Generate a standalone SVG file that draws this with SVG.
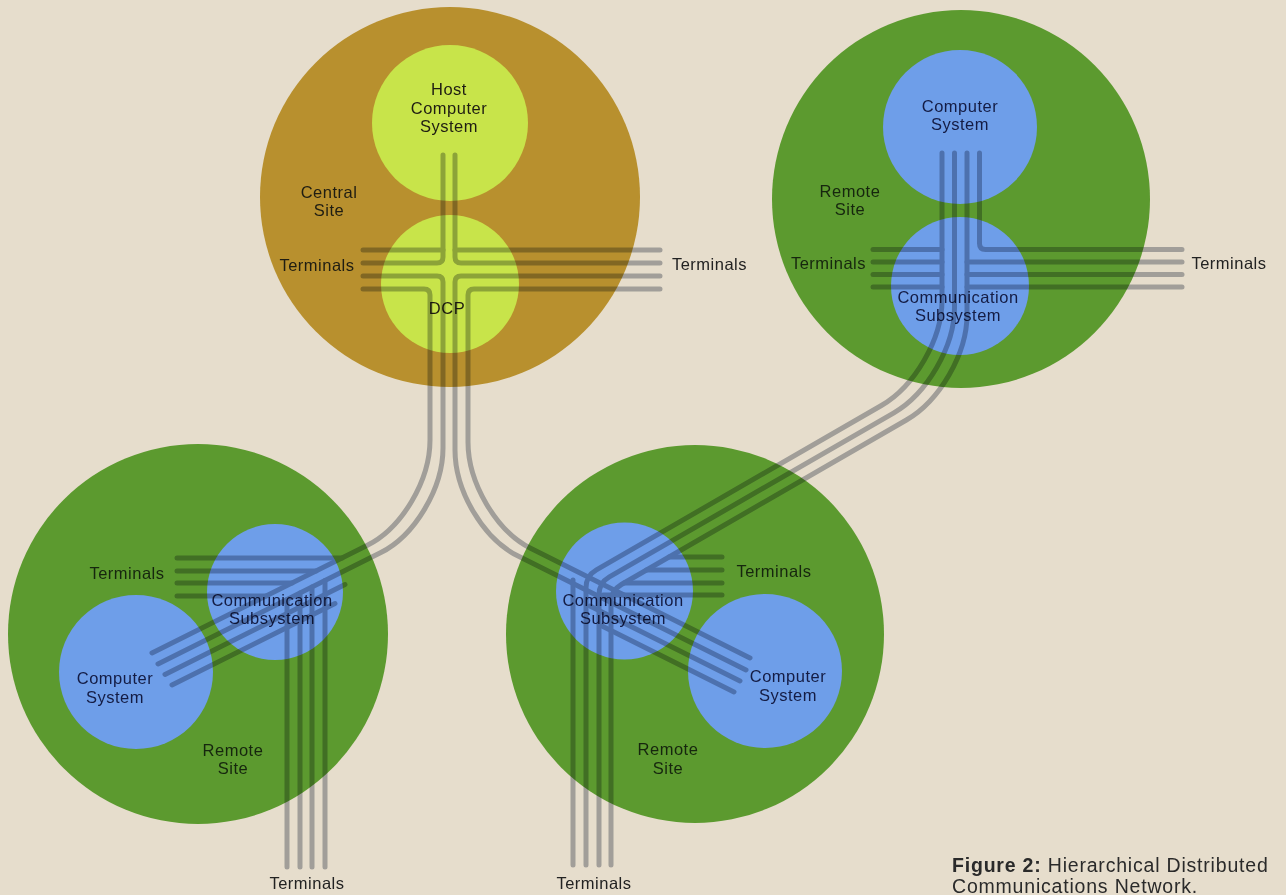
<svg xmlns="http://www.w3.org/2000/svg" width="1286" height="895" viewBox="0 0 1286 895">
<style>
text{font-family:"Liberation Sans",Arial,sans-serif;font-size:16.5px;letter-spacing:0.5px;text-anchor:middle}
.site-c{fill:#b8902e}
.site-g{fill:#5c9a2f}
.inner-y{fill:#c8e44a}
.inner-b{fill:#6e9ee9}
.t-dark{fill:#1f1d12}
.t-green{fill:#16260e}
.t-blue{fill:#141c44}
.t-bg{fill:#222}
.cap{font-size:19.5px;letter-spacing:0.8px;text-anchor:start;fill:#2a2a2a}
.conn{fill:none;stroke:#b3b7bf;stroke-width:5;stroke-linecap:round;stroke-linejoin:round}
</style>
<rect width="1286" height="895" fill="#e6ddcc"/>

<g id="central-site">
<circle class="site-c" cx="450" cy="197" r="190"/>
<text class="t-dark" x="329" y="197.5">Central</text>
<text class="t-dark" x="329" y="216">Site</text>
</g>
<g id="remote-site-tr">
<circle class="site-g" cx="961" cy="199" r="189"/>
<text class="t-green" x="850" y="196.5">Remote</text>
<text class="t-green" x="850" y="215">Site</text>
</g>
<g id="remote-site-bl">
<circle class="site-g" cx="198" cy="634" r="190"/>
<text class="t-green" x="233" y="755.5">Remote</text>
<text class="t-green" x="233" y="774">Site</text>
</g>
<g id="remote-site-br">
<circle class="site-g" cx="695" cy="634" r="189"/>
<text class="t-green" x="668" y="755">Remote</text>
<text class="t-green" x="668" y="773.5">Site</text>
</g>

<g id="host">
<circle class="inner-y" cx="450" cy="123" r="78"/>
<text class="t-dark" x="449" y="95">Host</text>
<text class="t-dark" x="449" y="113.5">Computer</text>
<text class="t-dark" x="449" y="132">System</text>
</g>
<g id="dcp">
<circle class="inner-y" cx="450" cy="284" r="69"/>
<text class="t-dark" x="447" y="314">DCP</text>
</g>
<g id="tr-computer">
<circle class="inner-b" cx="960" cy="127" r="77"/>
<text class="t-blue" x="960" y="111.5">Computer</text>
<text class="t-blue" x="960" y="130">System</text>
</g>
<g id="tr-comm">
<circle class="inner-b" cx="960" cy="286" r="69"/>
<text class="t-blue" x="958" y="302.75">Communication</text>
<text class="t-blue" x="958" y="321.25">Subsystem</text>
</g>
<g id="bl-comm">
<circle class="inner-b" cx="275" cy="592" r="68"/>
<text class="t-blue" x="272" y="605.75">Communication</text>
<text class="t-blue" x="272" y="624.25">Subsystem</text>
</g>
<g id="bl-computer">
<circle class="inner-b" cx="136" cy="672" r="77"/>
<text class="t-blue" x="115" y="684.25">Computer</text>
<text class="t-blue" x="115" y="702.75">System</text>
</g>
<g id="br-comm">
<circle class="inner-b" cx="624.5" cy="591" r="68.5"/>
<text class="t-blue" x="623" y="605.75">Communication</text>
<text class="t-blue" x="623" y="624.25">Subsystem</text>
</g>
<g id="br-computer">
<circle class="inner-b" cx="765" cy="671" r="77"/>
<text class="t-blue" x="788" y="682.25">Computer</text>
<text class="t-blue" x="788" y="700.75">System</text>
</g>

<g id="connectors" class="conn" style="mix-blend-mode:multiply">
<!-- central -->
<path d="M363 250H443"/>
<path d="M443 155V257Q443 263 437 263H363"/>
<path d="M455 155V257Q455 263 461 263H660"/>
<path d="M660 250H455"/>
<path d="M363 289H424Q430 289 430 295V440C430 480.7 401.8 528.1 367.4 545.3L152 653"/>
<path d="M363 276H437Q443 276 443 282V448C443 488.4 414.8 535.6 380.4 552.8L158 664"/>
<path d="M660 276H461Q455 276 455 282V450C455 491 483.2 538.6 517.6 555.8L746 670"/>
<path d="M660 289H474Q468 289 468 295V442C468 482.7 496.2 531.1 530.6 548.3L750 658"/>
<!-- bottom left -->
<path d="M165 674.5L345 584.5"/>
<path d="M172 685L335 603.5"/>
<path d="M177 558H342"/>
<path d="M177 571H316"/>
<path d="M177 583H292"/>
<path d="M177 596H266"/>
<path d="M287 867V599.5"/>
<path d="M300 867V593"/>
<path d="M312 867V587"/>
<path d="M325 867V580.5"/>
<!-- bottom right -->
<path d="M590 606L740 681"/>
<path d="M600 625L734 692"/>
<path d="M722 557H669"/>
<path d="M722 570H646.5"/>
<path d="M722 583H624"/>
<path d="M722 595H603"/>
<path d="M573 865V580"/>
<!-- top right and link to bottom right -->
<path d="M942 153V300.5C942 339 914.7 386.3 881.4 405.5L596.4 569.9Q586 575.9 586 587.9V865"/>
<path d="M954.5 153V307.8C954.5 346.3 927.2 393.6 893.9 412.8L609.4 576.9Q599 582.9 599 594.9V865"/>
<path d="M967 153V315C967 353.5 939.7 400.8 906.4 420L621.4 584.5Q611 590.5 611 602.5V865"/>
<path d="M979.5 153V243.5Q979.5 249.5 985.5 249.5H1182"/>
<path d="M873 249.5H942"/>
<path d="M873 262H942"/>
<path d="M873 274.5H942"/>
<path d="M873 287H942"/>
<path d="M1182 262H967"/>
<path d="M1182 274.5H967"/>
<path d="M1182 287H967"/>
</g>

<g id="labels">
<text class="t-dark" x="317" y="270.5">Terminals</text>
<text class="t-bg" x="709.5" y="270">Terminals</text>
<text class="t-green" x="828.5" y="269">Terminals</text>
<text class="t-bg" x="1229" y="269">Terminals</text>
<text class="t-green" x="127" y="578.5">Terminals</text>
<text class="t-bg" x="307" y="889">Terminals</text>
<text class="t-green" x="774" y="576.5">Terminals</text>
<text class="t-bg" x="594" y="888.5">Terminals</text>
</g>

<g id="caption">
<text class="cap" x="952" y="871.5"><tspan font-weight="bold">Figure 2:</tspan> Hierarchical Distributed</text>
<text class="cap" x="952" y="893.3">Communications Network.</text>
</g>
</svg>
